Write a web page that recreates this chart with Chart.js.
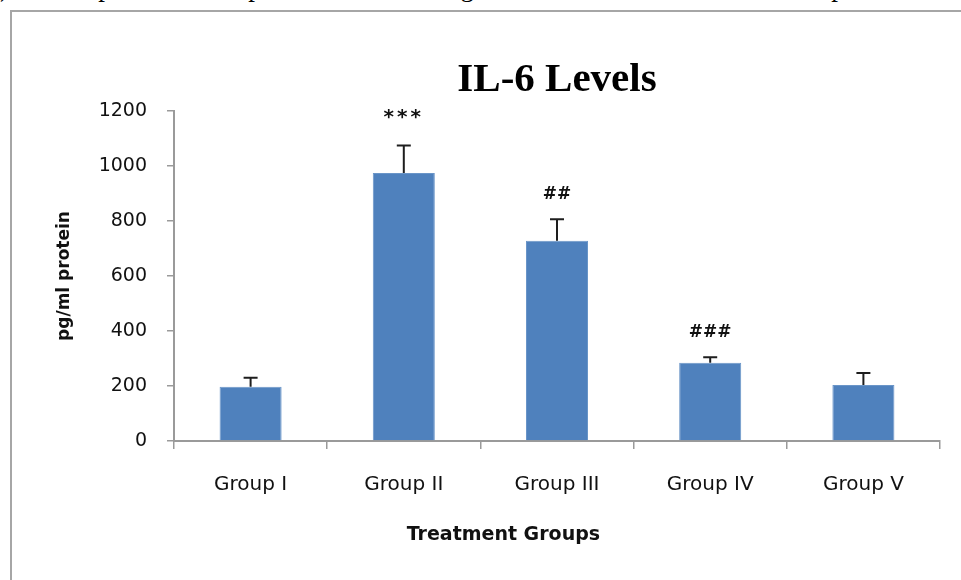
<!DOCTYPE html>
<html>
<head>
<meta charset="utf-8">
<script src="https://cdn.jsdelivr.net/npm/chart.js@4"></script>
<style>
  html, body { margin: 0; padding: 0; background: #fff; overflow: hidden; width: 961px; height: 580px; }
  #wrap { position: relative; width: 961px; height: 580px; overflow: hidden; }
  #lead { position: absolute; left: 0; top: -26px; font: 27px 'Liberation Serif', 'Times New Roman', serif; line-height: 27px; white-space: nowrap; color: #000; }
  #frame { position: absolute; left: 10px; top: 10px; width: 1200px; height: 800px; border-left: 2px solid #a6a6a6; border-top: 2px solid #a6a6a6; }
  canvas { position: absolute; left: 0; top: 0; }
</style>
</head>
<body>
<div id="wrap">
  <div id="lead">), as compared to Group I. There was no significant difference between Group I and Group V.</div>
  <div id="frame"></div>
  <canvas id="c" width="961" height="580"></canvas>
</div>
<script>
// IL-6 concentration per treatment group (mean and SEM, pg/ml protein)
const categories = ['Group I', 'Group II', 'Group III', 'Group IV', 'Group V'];
const il6Means = [197, 975, 728, 285, 204];
const il6Errors = [33, 100, 78, 20, 43];
const significance = ['', '***', '##', '###', ''];
const yTicks = [0, 200, 400, 600, 800, 1000, 1200];

const AXIS_GREY = '#9a9a9a';
const TEXT = '#111';

// Upper error whiskers plus significance marks above them
const errorBars = {
  id: 'errorBars',
  afterDatasetsDraw(chart) {
    const { ctx } = chart;
    const y = chart.scales.y;
    const meta = chart.getDatasetMeta(0);
    ctx.save();
    ctx.strokeStyle = '#1e1e1e';
    ctx.lineWidth = 2;
    meta.data.forEach((bar, i) => {
      const base = y.getPixelForValue(il6Means[i]);
      const top = y.getPixelForValue(il6Means[i] + il6Errors[i]);
      ctx.beginPath();
      ctx.moveTo(bar.x, base);
      ctx.lineTo(bar.x, top);
      ctx.moveTo(bar.x - 7, top);
      ctx.lineTo(bar.x + 7, top);
      ctx.stroke();
      const mark = significance[i];
      if (mark) {
        ctx.fillStyle = TEXT;
        ctx.textAlign = 'center';
        ctx.textBaseline = 'middle';
        if (mark.startsWith('*')) {
          ctx.font = 'bold 20px "DejaVu Sans"';
          if ('letterSpacing' in ctx) ctx.letterSpacing = '3px';
          ctx.fillText(mark, bar.x, top - 28);
        } else {
          ctx.font = 'bold 17px "DejaVu Sans"';
          if ('letterSpacing' in ctx) ctx.letterSpacing = '0px';
          ctx.fillText(mark, bar.x, top - 25);
        }
      }
    });
    ctx.restore();
  }
};

// Horizontal axis caption, set slightly left of the plot centre
const xCaption = {
  id: 'xCaption',
  afterDraw(chart) {
    const { ctx, chartArea } = chart;
    ctx.save();
    ctx.fillStyle = TEXT;
    ctx.font = 'bold 19px "DejaVu Sans"';
    ctx.textAlign = 'center';
    ctx.textBaseline = 'middle';
    ctx.fillText('Treatment Groups', chartArea.left + chartArea.width * 0.43, 535);
    ctx.restore();
  }
};

new Chart(document.getElementById('c'), {
  type: 'bar',
  data: {
    labels: categories,
    datasets: [{
      data: il6Means,
      backgroundColor: '#4f81bd',
      borderColor: '#6a95c8',
      borderWidth: 1,
      categoryPercentage: 1.0,
      barPercentage: 0.405
    }]
  },
  options: {
    responsive: false,
    animation: false,
    devicePixelRatio: 1,
    layout: { padding: { left: 0, right: 21, top: 0, bottom: 0 } },
    plugins: {
      legend: { display: false },
      tooltip: { enabled: false },
      title: {
        display: true,
        text: 'IL-6 Levels',
        fullSize: false,
        color: '#000',
        font: { family: '"Liberation Serif", "Times New Roman", serif', size: 41, weight: 'bold' },
        padding: { top: 56, bottom: 5.8 }
      }
    },
    scales: {
      x: {
        grid: {
          offset: true,
          drawOnChartArea: false,
          drawTicks: true,
          tickLength: 8,
          color: AXIS_GREY,
          lineWidth: 1.5
        },
        border: { display: true, color: AXIS_GREY, width: 2 },
        ticks: {
          color: TEXT,
          font: { family: '"DejaVu Sans"', size: 20 },
          padding: 24,
          maxRotation: 0
        },
        afterFit(scale) { scale.height = 139; }
      },
      y: {
        min: 0,
        max: 1200,
        afterBuildTicks(scale) { scale.ticks = yTicks.map(v => ({ value: v })); },
        grid: {
          drawOnChartArea: false,
          drawTicks: true,
          tickLength: 7,
          color: AXIS_GREY,
          lineWidth: 1.5
        },
        border: { display: true, color: AXIS_GREY, width: 2 },
        ticks: {
          color: TEXT,
          font: { family: '"DejaVu Sans"', size: 19 },
          padding: 20,
          callback: v => String(v)
        },
        title: {
          display: true,
          text: 'pg/ml protein',
          color: TEXT,
          font: { family: '"DejaVu Sans"', size: 17, weight: 'bold' },
          padding: { top: 54, bottom: 0 }
        },
        afterFit(scale) { scale.width = 174; }
      }
    }
  },
  plugins: [errorBars, xCaption]
});
</script>
</body>
</html>
